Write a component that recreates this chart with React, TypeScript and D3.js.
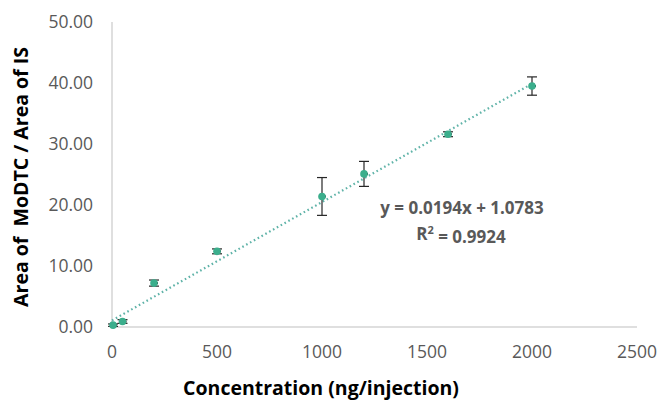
import React from "react";
import * as d3 from "d3";

const concentrations = [5, 50, 200, 500, 1000, 1200, 1600, 2000];
const ratios = [0.3, 0.9, 7.2, 12.4, 21.4, 25.1, 31.6, 39.5];
const errors = [0.2, 0.3, 0.5, 0.4, 3.1, 2.05, 0.4, 1.5];
const xTicks = [0, 500, 1000, 1500, 2000, 2500];
const yTicks = [0, 10, 20, 30, 40, 50];
const slope = 0.0194;
const intercept = 1.0783;
const trendRange = [0, 2000];

const W = 662;
const H = 408;

export default function App() {
  const x = d3.scaleLinear().domain([0, 2500]).range([112, 637]);
  const y = d3.scaleLinear().domain([0, 50]).range([327, 22]);
  const font = "'Open Sans', 'Liberation Sans', sans-serif";
  const tickColor = "#595959";
  const teal = "#3bae8c";
  const trendLine = d3
    .line<number>()
    .x((d) => x(d))
    .y((d) => y(slope * d + intercept));

  return (
    <svg width={W} height={H} style={{ position: "absolute", left: 0, top: 0 }}>
      <rect width={W} height={H} fill="#fff" />
      {/* axes */}
      <line x1={x(0)} x2={x(0)} y1={y(50)} y2={y(0)} stroke="#bfbfbf" strokeWidth={1} />
      <line x1={x(0)} x2={x(2500)} y1={y(0)} y2={y(0)} stroke="#bfbfbf" strokeWidth={1} />
      {yTicks.map((t) => (
        <text key={"y" + t} x={93} y={y(t)} dy="0.35em" textAnchor="end" fontFamily={font} fontSize={17.5} fill={tickColor}>
          {t.toFixed(2)}
        </text>
      ))}
      {xTicks.map((t) => (
        <text key={"x" + t} x={x(t)} y={352} dy="0.35em" textAnchor="middle" fontFamily={font} fontSize={17.5} fill={tickColor}>
          {t}
        </text>
      ))}
      {/* trendline */}
      <path
        d={trendLine(trendRange) || ""}
        fill="none"
        stroke="#5fb3a8"
        strokeWidth={2.2}
        strokeDasharray="1.6 2.8"
      />
      {/* error bars */}
      {concentrations.map((c, i) => {
        const cx = x(c);
        const top = y(ratios[i] + errors[i]);
        const bot = y(ratios[i] - errors[i]);
        return (
          <g key={"e" + i} stroke="#262626" strokeWidth={1.2}>
            <line x1={cx} x2={cx} y1={top} y2={bot} />
            <line x1={cx - 5} x2={cx + 5} y1={top} y2={top} />
            <line x1={cx - 5} x2={cx + 5} y1={bot} y2={bot} />
            <line x1={cx} x2={cx + 4} y1={y(ratios[i])} y2={y(ratios[i])} strokeWidth={2} />
          </g>
        );
      })}
      {/* points */}
      {concentrations.map((c, i) => (
        <circle key={"p" + i} cx={x(c)} cy={y(ratios[i])} r={3.8} fill={teal} />
      ))}
      {/* equation */}
      <text x={462} y={208} dy="0.35em" textAnchor="middle" fontFamily={font} fontSize={17} fontWeight="bold" fill={tickColor}>
        y = 0.0194x + 1.0783
      </text>
      <text x={461} y={234} dy="0.35em" textAnchor="middle" fontFamily={font} fontSize={17} fontWeight="bold" fill={tickColor}>
        R<tspan fontSize={11} dy="-0.55em">2</tspan>
        <tspan dy="0.55em"> = 0.9924</tspan>
      </text>
      {/* axis titles */}
      <text
        transform={`translate(21,177) rotate(-90)`}
        textAnchor="middle"
        dy="0.35em"
        fontFamily={font}
        fontSize={19.5}
        fontWeight="bold"
        fill="#000"
        style={{ whiteSpace: "pre" }}
      >
        {"Area of  MoDTC / Area of IS"}
      </text>
      <text x={321} y={388} dy="0.35em" textAnchor="middle" fontFamily={font} fontSize={19.5} fontWeight="bold" fill="#000">
        Concentration (ng/injection)
      </text>
    </svg>
  );
}
